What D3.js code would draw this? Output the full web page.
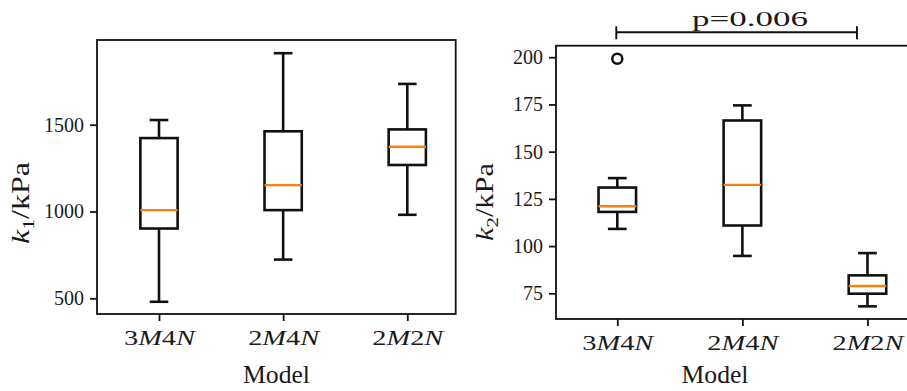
<!DOCTYPE html>
<html>
<head>
<meta charset="utf-8">
<script src="https://cdn.jsdelivr.net/npm/d3@7/dist/d3.min.js"></script>
<style>
  html, body { margin: 0; padding: 0; background: #fff; }
  svg { display: block; }
  text { font-family: "Liberation Serif", "Times New Roman", serif; fill: #1a1a1a; }
</style>
</head>
<body>
<svg id="chart" width="907" height="391"></svg>
<script>
// ---- Data ----
const categories = ["3M4N", "2M4N", "2M2N"];

// k1 (kPa)
const k1WhiskerLow  = [480, 723, 981];
const k1Q1          = [902, 1008, 1268];
const k1Median      = [1008, 1152, 1373];
const k1Q3          = [1423, 1462, 1473];
const k1WhiskerHigh = [1527, 1912, 1735];
const k1Outliers    = [[], [], []];
const k1Ticks       = [500, 1000, 1500];

// k2 (kPa)
const k2WhiskerLow  = [109.1, 94.8, 68.1];
const k2Q1          = [118.1, 110.9, 74.8];
const k2Median      = [121.1, 132.4, 78.9];
const k2Q3          = [131.0, 166.5, 84.5];
const k2WhiskerHigh = [136.0, 174.5, 96.3];
const k2Outliers    = [[199.2], [], []];
const k2Ticks       = [75, 100, 125, 150, 175, 200];

const pLabel = "p=0.006";
const pPair  = [0, 2];

// ---- Drawing ----
const svg = d3.select("#chart");
const ORANGE = "#ff7f0e";
const INK = "#111";

function mathLabel(sel, label) {
  for (const ch of label) {
    sel.append("tspan")
      .attr("font-style", /[A-Za-z]/.test(ch) ? "italic" : "normal")
      .text(ch);
  }
}

function drawPanel(opts) {
  const g = svg.append("g");
  const x = d3.scaleLinear().domain(opts.xDomain).range([opts.left, opts.right]);
  const y = d3.scaleLinear().domain(opts.yDomain).range([opts.bottom, opts.top]);
  const pos = categories.map((c, i) => i + 1);
  const halfW = 0.15, capW = 0.075;

  const yAxis = d3.axisLeft(y).tickValues(opts.ticks).tickSize(7).tickPadding(6).tickFormat(d3.format("d"));
  const ya = g.append("g").attr("transform", `translate(${opts.left},0)`).call(yAxis);
  ya.select(".domain").remove();
  ya.selectAll(".tick line").attr("stroke", INK).attr("stroke-width", 1.8);
  ya.selectAll(".tick text").attr("font-size", 20).attr("font-family", "Liberation Serif").attr("fill", "#1a1a1a");

  const xAxis = d3.axisBottom(x).tickValues(pos).tickSize(7).tickFormat("");
  const xa = g.append("g").attr("transform", `translate(0,${opts.bottom})`).call(xAxis);
  xa.select(".domain").remove();
  xa.selectAll(".tick line").attr("stroke", INK).attr("stroke-width", 1.8);
  xa.selectAll(".tick").each(function(d, i) {
    const t = d3.select(this).append("text")
      .attr("y", 31).attr("text-anchor", "middle")
      .attr("font-size", 22).attr("fill", "#1a1a1a")
      .attr("textLength", 71).attr("lengthAdjust", "spacingAndGlyphs");
    mathLabel(t, categories[i]);
  });

  g.append("rect")
    .attr("x", opts.left).attr("y", opts.top)
    .attr("width", opts.right - opts.left).attr("height", opts.bottom - opts.top)
    .attr("fill", "none").attr("stroke", INK).attr("stroke-width", 1.8);

  pos.forEach((p, i) => {
    const bx = g.append("g").attr("stroke", INK).attr("stroke-width", 2.6).attr("fill", "none");
    bx.append("line").attr("x1", x(p)).attr("x2", x(p)).attr("y1", y(opts.q1[i])).attr("y2", y(opts.wl[i]));
    bx.append("line").attr("x1", x(p)).attr("x2", x(p)).attr("y1", y(opts.q3[i])).attr("y2", y(opts.wh[i]));
    bx.append("line").attr("x1", x(p - capW)).attr("x2", x(p + capW)).attr("y1", y(opts.wl[i])).attr("y2", y(opts.wl[i]));
    bx.append("line").attr("x1", x(p - capW)).attr("x2", x(p + capW)).attr("y1", y(opts.wh[i])).attr("y2", y(opts.wh[i]));
    bx.append("rect")
      .attr("x", x(p - halfW)).attr("y", y(opts.q3[i]))
      .attr("width", x(p + halfW) - x(p - halfW))
      .attr("height", y(opts.q1[i]) - y(opts.q3[i]));
    g.append("line")
      .attr("x1", x(p - halfW)).attr("x2", x(p + halfW))
      .attr("y1", y(opts.med[i])).attr("y2", y(opts.med[i]))
      .attr("stroke", ORANGE).attr("stroke-width", 2.4);
    opts.out[i].forEach(v => {
      g.append("circle").attr("cx", x(p)).attr("cy", y(v)).attr("r", 5)
        .attr("fill", "none").attr("stroke", INK).attr("stroke-width", 2.5);
    });
  });

  g.append("text")
    .attr("x", opts.labelX)
    .attr("y", 383).attr("text-anchor", "middle").attr("font-size", 25)
    .attr("textLength", 67).attr("lengthAdjust", "spacingAndGlyphs")
    .text("Model");

  const yl = g.append("text")
    .attr("transform", `translate(${opts.ylabelX},${opts.ylabelY}) rotate(-90)`)
    .attr("text-anchor", "middle").attr("font-size", 25)
    .attr("textLength", opts.ylabelLen).attr("lengthAdjust", "spacingAndGlyphs");
  yl.append("tspan").attr("font-style", "italic").text("k");
  yl.append("tspan").attr("font-size", 17).attr("dy", 5).text(opts.sub);
  yl.append("tspan").attr("dy", -5).text("/kPa");

  return { x, y, g };
}

const left = drawPanel({
  left: 97, right: 455.7, top: 40, bottom: 314,
  xDomain: [0.5006, 3.39], yDomain: [409.6, 1988],
  ticks: k1Ticks, wl: k1WhiskerLow, q1: k1Q1, med: k1Median, q3: k1Q3, wh: k1WhiskerHigh, out: k1Outliers,
  labelX: 276.5, ylabelX: 29, ylabelY: 203, ylabelLen: 82, sub: "1"
});

const right = drawPanel({
  left: 556, right: 930, top: 45.7, bottom: 319,
  xDomain: [0.51, 3.5], yDomain: [61.4, 206.1],
  ticks: k2Ticks, wl: k2WhiskerLow, q1: k2Q1, med: k2Median, q3: k2Q3, wh: k2WhiskerHigh, out: k2Outliers,
  labelX: 715, ylabelX: 493, ylabelY: 202, ylabelLen: 78, sub: "2"
});

// significance bracket
{
  const x = right.x;
  const xa = x(pPair[0] + 1) - 1, xb = x(pPair[1] + 1) - 10.5;
  const yb = 32.3;
  const br = svg.append("g").attr("stroke", INK).attr("stroke-width", 1.9).attr("fill", "none");
  br.append("line").attr("x1", xa).attr("x2", xb).attr("y1", yb).attr("y2", yb);
  br.append("line").attr("x1", xa).attr("x2", xa).attr("y1", yb - 6).attr("y2", yb + 7);
  br.append("line").attr("x1", xb).attr("x2", xb).attr("y1", yb - 6).attr("y2", yb + 7);
  svg.append("text")
    .attr("x", 750).attr("y", 25.5).attr("text-anchor", "middle")
    .attr("font-size", 22).attr("textLength", 116).attr("lengthAdjust", "spacingAndGlyphs")
    .text(pLabel);
}
</script>
</body>
</html>
